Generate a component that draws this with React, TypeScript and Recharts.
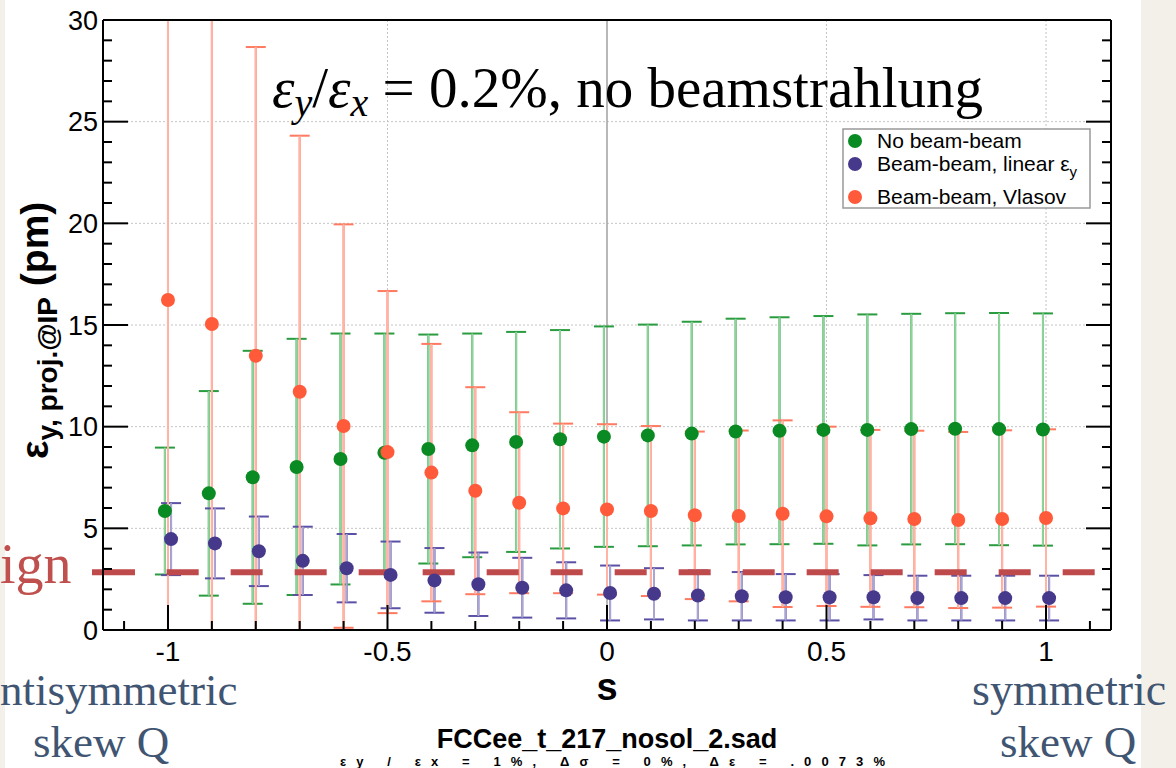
import { ErrorBar, Legend, ReferenceLine, Scatter, ScatterChart, XAxis, YAxis } from "recharts";

// skew-quad mixing parameter s, one scan point every 0.1
const sValues = [-1, -0.9, -0.8, -0.7, -0.6, -0.5, -0.4, -0.3, -0.2, -0.1, 0, 0.1, 0.2, 0.3, 0.4, 0.5, 0.6, 0.7, 0.8, 0.9, 1];

// vertical emittance projected to the IP (pm) and its spread
const noBeamBeam = [5.85, 6.72, 7.51, 8.02, 8.41, 8.72, 8.9, 9.08, 9.25, 9.38, 9.51, 9.57, 9.66, 9.76, 9.8, 9.84, 9.84, 9.88, 9.9, 9.88, 9.86];
const noBeamBeamErr = [3.12, 5.03, 6.22, 6.3, 6.17, 5.86, 5.63, 5.5, 5.41, 5.37, 5.42, 5.45, 5.5, 5.55, 5.58, 5.6, 5.68, 5.67, 5.68, 5.71, 5.71];

const linearBB = [4.47, 4.26, 3.87, 3.4, 3.04, 2.71, 2.44, 2.25, 2.08, 1.95, 1.82, 1.78, 1.7, 1.66, 1.61, 1.61, 1.61, 1.57, 1.57, 1.57, 1.57];
const linearBBErr = [1.77, 1.72, 1.71, 1.68, 1.68, 1.64, 1.59, 1.56, 1.47, 1.38, 1.35, 1.26, 1.23, 1.19, 1.14, 1.14, 1.09, 1.1, 1.1, 1.1, 1.1];

const vlasovBB = [16.23, 15.05, 13.49, 11.72, 10.03, 8.75, 7.74, 6.85, 6.26, 5.98, 5.93, 5.85, 5.64, 5.61, 5.72, 5.59, 5.49, 5.46, 5.41, 5.46, 5.51];
const vlasovBBErr = [19, 17, 15.18, 12.59, 9.92, 7.92, 6.33, 5.09, 4.45, 4.17, 4.19, 4.18, 4.12, 4.2, 4.59, 4.41, 4.35, 4.34, 4.33, 4.36, 4.36];

// design value
const designLevel = 2.84;

const xDomain = [-1.148, 1.148];
const yDomain = [0, 30];
const xTicks = Array.from({ length: 23 }, (_, i) => (i - 11) / 10);
const yTicks = Array.from({ length: 31 }, (_, i) => i);
const xGrid = [-1, -0.5, 0.5, 1];
const yGrid = [5, 10, 15, 20, 25];

const W = 1176;
const H = 768;
// frame of the plotting area; every axis is 1px thick so the margins are one short
const plotBox = { left: 103, top: 20, right: 1111, bottom: 630 };

const sans = "'Liberation Sans', Arial, sans-serif";
const serif = "'Liberation Serif', 'Times New Roman', serif";

const series = [
  { name: "No beam-beam", values: noBeamBeam, errs: noBeamBeamErr, shift: -0.007, fill: "#0a8a22", cap: "#2a9c40", bar: "#8dd39a" },
  { name: "Beam-beam, linear εy", values: linearBB, errs: linearBBErr, shift: 0.007, fill: "#46398c", cap: "#5a51a6", bar: "#aaa5d2" },
  { name: "Beam-beam, Vlasov", values: vlasovBB, errs: vlasovBBErr, shift: 0, fill: "#ff5a3a", cap: "#ff7a60", bar: "#ffb4a6" },
];

// long first dash, then a regular 32/32 pattern
const designDash = "43 31.7 " + Array.from({ length: 15 }, () => "32 32").join(" ");

const isMajor = (v: number, step: number) => Math.abs(v / step - Math.round(v / step)) < 1e-6;

function BottomTick({ x, y, payload }: any) {
  const major = isMajor(payload.value, 0.5);
  return (
    <g>
      <line x1={x} x2={x} y1={y} y2={y - (major ? 25 : 9)} stroke="#000" strokeWidth={2} />
      {major && (
        <text x={x} y={y + 31} textAnchor="middle" fontFamily={sans} fontSize={28} fill="#000">
          {String(Math.round(payload.value * 10) / 10)}
        </text>
      )}
    </g>
  );
}

function TopTick({ x, y, payload }: any) {
  const major = isMajor(payload.value, 0.5);
  return <line x1={x} x2={x} y1={y} y2={y + (major ? 25 : 9)} stroke="#000" strokeWidth={2} />;
}

function LeftTick({ x, y, payload }: any) {
  const major = isMajor(payload.value, 5);
  return (
    <g>
      <line x1={x} x2={x + (major ? 25 : 9)} y1={y} y2={y} stroke="#000" strokeWidth={2} />
      {major && (
        <text x={x - 5} y={y + 9.5} textAnchor="end" fontFamily={sans} fontSize={27} fill="#000">
          {payload.value}
        </text>
      )}
    </g>
  );
}

function RightTick({ x, y, payload }: any) {
  const major = isMajor(payload.value, 5);
  return <line x1={x} x2={x - (major ? 25 : 9)} y1={y} y2={y} stroke="#000" strokeWidth={2} />;
}

function LegendBox({ payload }: any) {
  const rows = [13, 36, 69];
  const entries = series.map((sr) => (payload || []).find((p: any) => p.value === sr.name)).filter(Boolean);
  return (
    <svg width={250} height={82}>
      <rect x={1} y={1} width={247} height={79} fill="#fff" stroke="#999" strokeWidth={1.5} />
      {entries.map((entry: any, i: number) => {
        const label: string = entry.value;
        const sub = label.endsWith("εy");
        return (
          <g key={label}>
            <circle cx={13} cy={rows[i]} r={7} fill={entry.color} />
            <text x={35} y={rows[i] + 7} fontFamily={sans} fontSize={21} fill="#000">
              {sub ? label.slice(0, -1) : label}
              {sub && (
                <tspan fontSize={15} dy={6}>
                  y
                </tspan>
              )}
            </text>
          </g>
        );
      })}
    </svg>
  );
}

const axisLine = { stroke: "#000", strokeWidth: 2 };

export default function App() {
  return (
    <div style={{ position: "relative", width: W, height: H, background: "#f3f0ea", overflow: "hidden" }}>
      <style>{"body{margin:0} .recharts-errorBars, .recharts-errorBar { clip-path: url(#plot-area); }"}</style>
      <div style={{ position: "absolute", left: 5, top: 0, width: 1136, height: H, background: "#fff" }} />
      <div style={{ position: "absolute", left: 0, top: 0 }}>
        <ScatterChart
          width={W}
          height={H}
          margin={{
            top: plotBox.top - 1,
            right: W - plotBox.right - 1,
            bottom: H - plotBox.bottom - 1,
            left: plotBox.left - 1,
          }}
        >
          <XAxis
            xAxisId="b"
            dataKey="s"
            type="number"
            domain={xDomain}
            allowDataOverflow
            ticks={xTicks}
            interval={0}
            height={1}
            tickSize={0}
            tickMargin={0}
            tickLine={false}
            axisLine={axisLine}
            tick={BottomTick}
          />
          <XAxis
            xAxisId="t"
            orientation="top"
            type="number"
            domain={xDomain}
            allowDataOverflow
            ticks={xTicks}
            interval={0}
            height={1}
            tickSize={0}
            tickMargin={0}
            tickLine={false}
            axisLine={axisLine}
            tick={TopTick}
          />
          <YAxis
            yAxisId="l"
            dataKey="v"
            type="number"
            domain={yDomain}
            allowDataOverflow
            ticks={yTicks}
            interval={0}
            width={1}
            tickSize={0}
            tickMargin={0}
            tickLine={false}
            axisLine={axisLine}
            tick={LeftTick}
          />
          <YAxis
            yAxisId="r"
            orientation="right"
            type="number"
            domain={yDomain}
            allowDataOverflow
            ticks={yTicks}
            interval={0}
            width={1}
            tickSize={0}
            tickMargin={0}
            tickLine={false}
            axisLine={axisLine}
            tick={RightTick}
          />

          {xGrid.map((g) => (
            <ReferenceLine key={`gx${g}`} xAxisId="b" yAxisId="l" x={g} stroke="#c4c4c4" strokeDasharray="2 2" />
          ))}
          {yGrid.map((g) => (
            <ReferenceLine key={`gy${g}`} xAxisId="b" yAxisId="l" y={g} stroke="#c4c4c4" strokeDasharray="2 2" />
          ))}
          <ReferenceLine xAxisId="b" yAxisId="l" x={0} stroke="#a0a0a0" strokeWidth={1.5} />

          {series.map((sr) => (
            <Scatter
              key={sr.name}
              name={sr.name}
              xAxisId="b"
              yAxisId="l"
              fill={sr.fill}
              data={sValues.map((s, i) => ({ s: s + sr.shift, v: sr.values[i], e: sr.errs[i] }))}
              isAnimationActive={false}
              shape={(p: any) => <circle cx={p.cx} cy={p.cy} r={7} fill={sr.fill} />}
            >
              <ErrorBar dataKey="e" direction="y" width={10} stroke={sr.cap} strokeWidth={2} isAnimationActive={false} />
              <ErrorBar dataKey="e" direction="y" width={0} stroke={sr.bar} strokeWidth={2} isAnimationActive={false} />
            </Scatter>
          ))}

          <ReferenceLine
            xAxisId="b"
            yAxisId="l"
            segment={[
              { x: -1.1731, y: designLevel },
              { x: 1.1116, y: designLevel },
            ]}
            ifOverflow="visible"
            stroke="#bf4a4c"
            strokeWidth={6}
            strokeDasharray={designDash}
          />

          <Legend
            layout="horizontal"
            verticalAlign="middle"
            align="center"
            content={LegendBox}
            wrapperStyle={{ left: 842, top: 128, width: 250, height: 82 }}
          />
        </ScatterChart>
      </div>

      <svg width={W} height={H} style={{ position: "absolute", left: 0, top: 0, pointerEvents: "none" }}>
        <defs>
          <clipPath id="plot-area">
            <rect
              x={plotBox.left}
              y={plotBox.top}
              width={plotBox.right - plotBox.left}
              height={plotBox.bottom - plotBox.top}
            />
          </clipPath>
        </defs>

        <text x={272} y={107} fontFamily={serif} fontSize={57} fill="#000">
          <tspan fontStyle="italic">ε</tspan>
          <tspan fontStyle="italic" fontSize={40} dy={9}>y</tspan>
          <tspan dy={-9}>/</tspan>
          <tspan fontStyle="italic">ε</tspan>
          <tspan fontStyle="italic" fontSize={40} dy={9}>x</tspan>
          <tspan dy={-9}> = 0.2%, no beamstrahlung</tspan>
        </text>

        <text transform="translate(48 459) rotate(-90)" fontFamily={sans} fontWeight="bold" fontSize={39} fill="#000">
          ε<tspan fontSize={28} dy={9}>y, proj.@IP</tspan>
          <tspan dy={-9}> (pm)</tspan>
        </text>

        <text x={607} y={700} textAnchor="middle" fontFamily={sans} fontWeight="bold" fontSize={38} fill="#000">
          s
        </text>
        <text x={607} y={748} textAnchor="middle" fontFamily={sans} fontWeight="bold" fontSize={27} fill="#000">
          FCCee_t_217_nosol_2.sad
        </text>
        <text
          x={340}
          y={766}
          textLength={545}
          lengthAdjust="spacing"
          fontFamily={sans}
          fontWeight="bold"
          fontSize={13}
          fill="#000"
        >
          εy / εx = 1%,  Δσ = 0%,  Δε = .0073%
        </text>

        <text x={0} y={583} fontFamily={serif} fontSize={56} fill="#c0504d">
          ign
        </text>
        <text x={0} y={705} fontFamily={serif} fontSize={45} fill="#3f5572">
          ntisymmetric
        </text>
        <text x={33} y={757} fontFamily={serif} fontSize={45} fill="#3f5572">
          skew Q
        </text>
        <text x={972} y={705} fontFamily={serif} fontSize={46} fill="#3f5572">
          symmetric
        </text>
        <text x={1000} y={757} fontFamily={serif} fontSize={45} fill="#3f5572">
          skew Q
        </text>
      </svg>
    </div>
  );
}
